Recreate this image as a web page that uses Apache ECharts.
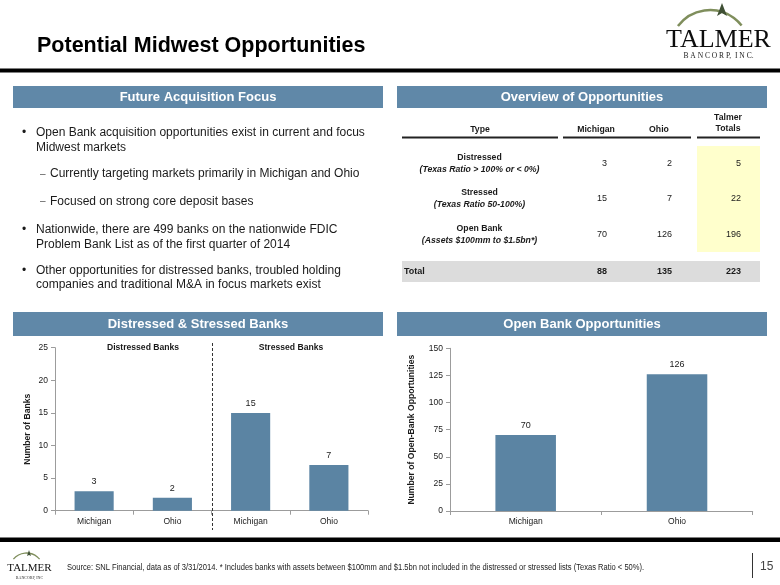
<!DOCTYPE html>
<html>
<head>
<meta charset="utf-8">
<script src="https://cdn.jsdelivr.net/npm/echarts@6/dist/echarts.min.js"></script>
<style>
html,body{margin:0;padding:0;background:#fff;}
#main{width:780px;height:585px;}
</style>
</head>
<body>
<div id="main"></div>
<script>
// ---------- data ----------
const slideTitle = 'Potential Midwest Opportunities';
const sectionTitles = ['Future Acquisition Focus', 'Overview of Opportunities', 'Distressed & Stressed Banks', 'Open Bank Opportunities'];

const bulletLevels = [0, 1, 1, 0, 0];
const bulletTexts = [
  ['Open Bank acquisition opportunities exist in current and focus', 'Midwest markets'],
  ['Currently targeting markets primarily in Michigan and Ohio'],
  ['Focused on strong core deposit bases'],
  ['Nationwide, there are 499 banks on the nationwide FDIC', 'Problem Bank List as of the first quarter of 2014'],
  ['Other opportunities for distressed banks, troubled holding', 'companies and traditional M&A in focus markets exist']
];

const tableHeaders = ['Type', 'Michigan', 'Ohio', 'Talmer\nTotals'];
const tableTypes = ['Distressed', 'Stressed', 'Open Bank'];
const tableTypeNotes = ['(Texas Ratio > 100% or < 0%)', '(Texas Ratio 50-100%)', '(Assets $100mm to $1.5bn*)'];
const tableMichigan = [3, 15, 70];
const tableOhio = [2, 7, 126];
const tableTotals = [5, 22, 196];
const tableTotalRow = ['Total', 88, 135, 223];

const dsCategories = ['Michigan', 'Ohio', 'Michigan', 'Ohio'];
const dsValues = [3, 2, 15, 7];
const dsGroups = ['Distressed Banks', 'Stressed Banks'];
const dsYTicks = [0, 5, 10, 15, 20, 25];
const dsYName = 'Number of Banks';

const obCategories = ['Michigan', 'Ohio'];
const obValues = [70, 126];
const obYTicks = [0, 25, 50, 75, 100, 125, 150];
const obYName = 'Number of Open-Bank Opportunities';

const footnote = 'Source: SNL Financial, data as of 3/31/2014. * Includes banks with assets between $100mm and $1.5bn not included in the distressed or stressed lists (Texas Ratio < 50%).';
const pageNumber = '15';

// ---------- styling ----------
const SANS = 'Liberation Sans, Arial, Helvetica, sans-serif';
const SERIF = 'Liberation Serif, Times New Roman, serif';
const BAR = '#5B84A3';
const HEAD = '#6088A8';
const AXIS = '#9C9C9C';
const INK = '#1a1a1a';

function T(x, y, text, o) {
  o = o || {};
  const el = {
    type: 'text', x: x, y: y, silent: true, z: o.z || 10,
    style: {
      text: text,
      fontFamily: o.family || SANS,
      fontSize: o.size || 12,
      fontWeight: o.weight || 'normal',
      fontStyle: o.style || 'normal',
      fill: o.fill || INK,
      textAlign: o.align || 'left',
      textVerticalAlign: o.valign || 'middle',
      lineHeight: o.lh
    }
  };
  if (o.scaleX) el.scaleX = o.scaleX;
  return el;
}
function R(x, y, w, h, fill, z) {
  return { type: 'rect', silent: true, z: z || 1, shape: { x: x, y: y, width: w, height: h }, style: { fill: fill } };
}
function L(x1, y1, x2, y2, stroke, w, dash) {
  return { type: 'line', silent: true, z: 5, shape: { x1: x1, y1: y1, x2: x2, y2: y2 },
    style: { stroke: stroke, lineWidth: w, lineDash: dash || null } };
}

const g = [];
// title & rules
g.push(T(37, 46, slideTitle, { size: 21.5, weight: 'bold', fill: '#000' }));
g.push(R(0, 68.5, 780, 4, '#000'));
g.push(R(0, 537.5, 780, 4.5, '#000'));

// logo top right
g.push({ type: 'arc', silent: true, z: 6, shape: { cx: 710, cy: 50, r: 40, startAngle: -2.5, endAngle: -0.66, clockwise: true },
  style: { stroke: '#7F8E5C', lineWidth: 2.5, fill: null } });
g.push({ type: 'polygon', silent: true, z: 7, shape: { points: [[722, 3], [717, 16], [722, 13], [727, 16]] }, style: { fill: '#3F5035' } });
g.push(T(718.5, 40, 'TALMER', { family: SERIF, size: 26, fill: '#0d0d0d', align: 'center' }));
g.push(T(718.5, 56, 'B A N C O R P,  I N C.', { family: SERIF, size: 7.5, fill: '#222', align: 'center' }));

// footer logo
g.push({ type: 'arc', silent: true, z: 6, shape: { cx: 26.5, cy: 570, r: 17, startAngle: -2.45, endAngle: -0.69, clockwise: true },
  style: { stroke: '#7F8E5C', lineWidth: 1.3, fill: null } });
g.push({ type: 'polygon', silent: true, z: 7, shape: { points: [[29, 550], [27, 556], [29, 555], [31, 556]] }, style: { fill: '#3F5035' } });
g.push(T(29.5, 568, 'TALMER', { family: SERIF, size: 11, fill: '#111', align: 'center' }));
g.push(T(29.5, 577.5, 'BANCORP, INC', { family: SERIF, size: 4, fill: '#333', align: 'center' }));
g.push(T(67, 568, footnote, { size: 8.5, fill: '#222', scaleX: 0.89 }));
g.push(L(752.5, 553, 752.5, 578, '#333', 1));
g.push(T(760, 567, pageNumber, { size: 12, fill: '#444' }));

// section header bars
const headBoxes = [[13, 86, 370, 22], [397, 86, 370, 22], [13, 312, 370, 24], [397, 312, 370, 24]];
sectionTitles.forEach(function (s, i) {
  const b = headBoxes[i];
  g.push(R(b[0], b[1], b[2], b[3], HEAD, 2));
  g.push(T(b[0] + b[2] / 2, b[1] + b[3] / 2 + 0.5, s, { size: 13, weight: 'bold', fill: '#fff', align: 'center' }));
});

// bullets
const bulletY = [[132.7, 147.7], [174], [201.5], [230, 244.5], [270.7, 285]];
bulletTexts.forEach(function (lines, i) {
  const lvl = bulletLevels[i];
  if (lvl === 0) g.push(T(22, bulletY[i][0], '\u2022', { size: 12 }));
  else g.push(T(40, bulletY[i][0], '\u2013', { size: 10, fill: '#555' }));
  lines.forEach(function (ln, j) {
    g.push(T(lvl === 0 ? 36 : 50, bulletY[i][j], ln, { size: 12 }));
  });
});

// table
const colX = [480, 596, 659, 728];
g.push(T(colX[0], 130, tableHeaders[0], { size: 8.7, weight: 'bold', align: 'center' }));
g.push(T(colX[1], 130, tableHeaders[1], { size: 8.7, weight: 'bold', align: 'center' }));
g.push(T(colX[2], 130, tableHeaders[2], { size: 8.7, weight: 'bold', align: 'center' }));
g.push(T(colX[3], 123, tableHeaders[3], { size: 8.7, weight: 'bold', align: 'center', lh: 11.5 }));
g.push(R(402, 136.5, 156, 2, '#222', 3));
g.push(R(563, 136.5, 128, 2, '#222', 3));
g.push(R(697, 136.5, 63, 2, '#222', 3));
g.push(R(697, 146, 63, 106, '#FFFFCC', 2));
const rowY = [164, 199, 235];
tableTypes.forEach(function (t, i) {
  g.push(T(479.5, rowY[i] - 6, t, { size: 8.7, weight: 'bold', align: 'center' }));
  g.push(T(479.5, rowY[i] + 5.5, tableTypeNotes[i], { size: 8.7, weight: 'bold', style: 'italic', align: 'center' }));
  g.push(T(607, rowY[i], String(tableMichigan[i]), { size: 9, align: 'right' }));
  g.push(T(672, rowY[i], String(tableOhio[i]), { size: 9, align: 'right' }));
  g.push(T(741, rowY[i], String(tableTotals[i]), { size: 9, align: 'right' }));
});
g.push(R(402, 261, 358, 21, '#DCDCDC', 2));
g.push(T(404, 272, tableTotalRow[0], { size: 9, weight: 'bold' }));
g.push(T(607, 272, String(tableTotalRow[1]), { size: 9, weight: 'bold', align: 'right' }));
g.push(T(672, 272, String(tableTotalRow[2]), { size: 9, weight: 'bold', align: 'right' }));
g.push(T(741, 272, String(tableTotalRow[3]), { size: 9, weight: 'bold', align: 'right' }));

// group labels of left chart
g.push(T(143, 348, dsGroups[0], { size: 8.6, weight: 'bold', align: 'center' }));
g.push(T(291, 348, dsGroups[1], { size: 8.6, weight: 'bold', align: 'center' }));

function axisY(ticks, name, gap) {
  return {
    type: 'value', min: ticks[0], max: ticks[ticks.length - 1], interval: ticks[1] - ticks[0],
    name: name, nameLocation: 'middle', nameRotate: 90, nameGap: gap,
    nameTextStyle: { fontFamily: SANS, fontSize: 8.6, fontWeight: 'bold', color: INK },
    axisLine: { show: true, lineStyle: { color: AXIS, width: 1 } },
    axisTick: { show: true, length: 4, lineStyle: { color: AXIS } },
    axisLabel: { margin: 7, fontFamily: SANS, fontSize: 8.5, color: INK },
    splitLine: { show: false }
  };
}
function axisX(cats, idx) {
  return {
    type: 'category', gridIndex: idx, data: cats,
    axisLine: { show: true, lineStyle: { color: AXIS, width: 1 } },
    axisTick: { show: true, length: 4, lineStyle: { color: AXIS } },
    axisLabel: { margin: 6, fontFamily: SANS, fontSize: 8.5, color: INK }
  };
}
const labelStyle = { show: true, position: 'top', distance: 5, fontFamily: SANS, fontSize: 9, color: INK };

const yA = axisY(dsYTicks, dsYName, 22.5); yA.gridIndex = 0;
const yB = axisY(obYTicks, obYName, 34); yB.gridIndex = 1;

const option = {
  animation: false,
  backgroundColor: '#fff',
  grid: [
    { left: 55, right: 412, top: 347.7, bottom: 74.3 },
    { left: 450, right: 27.3, top: 348.3, bottom: 74 }
  ],
  xAxis: [axisX(dsCategories, 0), axisX(obCategories, 1)],
  yAxis: [yA, yB],
  series: [
    { type: 'bar', xAxisIndex: 0, yAxisIndex: 0, data: dsValues, barWidth: '50%',
      itemStyle: { color: BAR }, label: labelStyle },
    { type: 'bar', xAxisIndex: 1, yAxisIndex: 1, data: obValues, barWidth: '40%',
      itemStyle: { color: BAR }, label: labelStyle }
  ],
  graphic: { elements: g }
};

const chart = echarts.init(document.getElementById('main'), null, { renderer: 'canvas' });
chart.setOption(option);

// dashed separator between Distressed and Stressed groups
const p1 = chart.convertToPixel({ xAxisIndex: 0 }, 1);
const p2 = chart.convertToPixel({ xAxisIndex: 0 }, 2);
const sepX = Math.round((p1 + p2) / 2) + 0.5;
chart.setOption({ graphic: { elements: [
  { id: 'sep', type: 'line', silent: true, z: 20, shape: { x1: sepX, y1: 343, x2: sepX, y2: 530 },
    style: { stroke: '#333', lineWidth: 1, lineDash: [3, 2] } }
] } });
</script>
</body>
</html>
